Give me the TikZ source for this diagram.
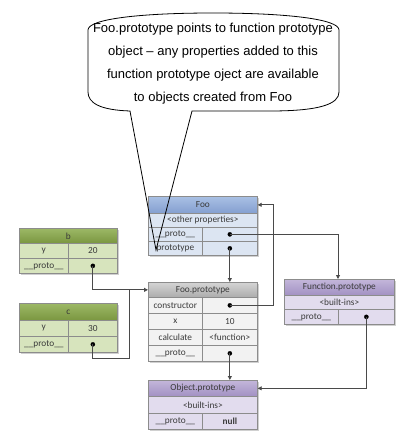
\documentclass[tikz,border=0pt]{standalone}
\usepackage{fontspec}
\newfontfamily\carlitofam{Carlito}
\newfontfamily\arialfam{Liberation Sans}
\usetikzlibrary{arrows.meta}
\definecolor{bordc}{HTML}{8C8C8C}
\definecolor{linec}{HTML}{4A4A4A}
\definecolor{txtc}{HTML}{3A3A3A}
\definecolor{shadc}{HTML}{D0D0D0}
\definecolor{rowgreen}{HTML}{D7E4BD}
\definecolor{greentop}{HTML}{9CB866}
\definecolor{greenbot}{HTML}{7A9640}
\definecolor{rowblue}{HTML}{DCE5F2}
\definecolor{bluetop}{HTML}{A9C0E4}
\definecolor{bluebot}{HTML}{849FD0}
\definecolor{rowgrey}{HTML}{F2F2F2}
\definecolor{greytop}{HTML}{D4D4D4}
\definecolor{greybot}{HTML}{ACACAC}
\definecolor{rowpurple}{HTML}{E2DCEE}
\definecolor{purptop}{HTML}{C3B6DA}
\definecolor{purpbot}{HTML}{A291C3}
\begin{document}
\begin{tikzpicture}[x=1pt,y=-1pt,
  cell/.style={draw=bordc, line width=0.7pt, inner sep=0pt, anchor=north west,
    font=\carlitofam\fontsize{9.3}{10}\selectfont, text=txtc},
  hgreen/.style={top color=greentop, bottom color=greenbot},
  hblue/.style={top color=bluetop, bottom color=bluebot},
  hgrey/.style={top color=greytop, bottom color=greybot},
  hpurple/.style={top color=purptop, bottom color=purpbot},
  conn/.style={draw=linec, line width=0.9pt},
  arr/.style={conn, -{Triangle[length=4pt,width=4pt]}},
  dot/.style={circle, fill=black, draw=black, line width=0.3pt, inner sep=0pt, minimum size=4.2pt},
  callout/.style={draw=black, line width=0.8pt},
]
\useasboundingbox (0,0) rectangle (401,434);
\fill[white] (0,0) rectangle (401,434);

% shadows
\fill[shadc] (20.5,229.5) rectangle (119,275);
\fill[shadc] (20.5,304.5) rectangle (119,354);
\fill[shadc] (149.5,197.5) rectangle (259,257);
\fill[shadc] (149.5,283.5) rectangle (259,363);
\fill[shadc] (285.5,280.5) rectangle (396,326);
\fill[shadc] (149.5,381.5) rectangle (259,431);

% b
\node[cell, hgreen, minimum width=98pt, minimum height=15pt] (bh) at (19,228) {b};
\node[cell, fill=rowgreen, minimum width=49pt, minimum height=15pt] (byk) at (19,243) {y};
\node[cell, fill=rowgreen, minimum width=49pt, minimum height=15pt] (byv) at (68,243) {20};
\node[cell, fill=rowgreen, minimum width=49pt, minimum height=15pt] (bpk) at (19,258) {\_\_proto\_\_};
\node[cell, fill=rowgreen, minimum width=49pt, minimum height=15pt] (bpv) at (68,258) {};

% c
\node[cell, hgreen, minimum width=98pt, minimum height=17pt] (ch) at (19,303) {c};
\node[cell, fill=rowgreen, minimum width=49pt, minimum height=16pt] (cyk) at (19,320) {y};
\node[cell, fill=rowgreen, minimum width=49pt, minimum height=16pt] (cyv) at (68,320) {30};
\node[cell, fill=rowgreen, minimum width=49pt, minimum height=16pt] (cpk) at (19,336) {\_\_proto\_\_};
\node[cell, fill=rowgreen, minimum width=49pt, minimum height=16pt] (cpv) at (68,336) {};

% Foo
\node[cell, hblue, minimum width=109pt, minimum height=17pt] (fooh) at (148,196) {Foo};
\node[cell, fill=rowblue, minimum width=109pt, minimum height=14pt] (fooo) at (148,213) {<other properties>};
\node[cell, fill=rowblue, minimum width=54pt, minimum height=14pt] (foopk) at (148,227) {\_\_proto\_\_};
\node[cell, fill=rowblue, minimum width=55pt, minimum height=14pt] (foopv) at (202,227) {};
\node[cell, fill=rowblue, minimum width=54pt, minimum height=14pt] (footk) at (148,241) {prototype};
\node[cell, fill=rowblue, minimum width=55pt, minimum height=14pt] (footv) at (202,241) {};

% Foo.prototype
\node[cell, hgrey, minimum width=109pt, minimum height=15pt] (fph) at (148,282) {Foo.prototype};
\node[cell, fill=rowgrey, minimum width=54pt, minimum height=16pt] (fpck) at (148,297) {constructor};
\node[cell, fill=rowgrey, minimum width=55pt, minimum height=16pt] (fpcv) at (202,297) {};
\node[cell, fill=rowgrey, minimum width=54pt, minimum height=16pt] (fpxk) at (148,313) {x};
\node[cell, fill=rowgrey, minimum width=55pt, minimum height=16pt] (fpxv) at (202,313) {10};
\node[cell, fill=rowgrey, minimum width=54pt, minimum height=16pt] (fpfk) at (148,329) {calculate};
\node[cell, fill=rowgrey, minimum width=55pt, minimum height=16pt] (fpfv) at (202,329) {<function>};
\node[cell, fill=rowgrey, minimum width=54pt, minimum height=16pt] (fppk) at (148,345) {\_\_proto\_\_};
\node[cell, fill=rowgrey, minimum width=55pt, minimum height=16pt] (fppv) at (202,345) {};

% Function.prototype
\node[cell, hpurple, minimum width=110pt, minimum height=16pt] (fnh) at (284,279) {Function.prototype};
\node[cell, fill=rowpurple, minimum width=110pt, minimum height=14pt] (fnb) at (284,295) {<built-ins>};
\node[cell, fill=rowpurple, minimum width=54pt, minimum height=15pt] (fnpk) at (284,309) {\_\_proto\_\_};
\node[cell, fill=rowpurple, minimum width=56pt, minimum height=15pt] (fnpv) at (338,309) {};

% Object.prototype
\node[cell, hpurple, minimum width=109pt, minimum height=16pt] (oh) at (148,380) {Object.prototype};
\node[cell, fill=rowpurple, minimum width=109pt, minimum height=17pt] (ob) at (148,396) {<built-ins>};
\node[cell, fill=rowpurple, minimum width=54pt, minimum height=16pt] (opk) at (148,413) {\_\_proto\_\_};
\node[cell, fill=rowpurple, minimum width=55pt, minimum height=16pt] (opv) at (202,413) {\textbf{null}};

% dots
\node[dot] (bd) at (bpv.center) {};
\node[dot] (cd) at (cpv.center) {};
\node[dot] (foopd) at (foopv.center) {};
\node[dot] (footd) at (footv.center) {};
\node[dot] (fpcd) at (fpcv.center) {};
\node[dot] (fppd) at (fppv.center) {};
\node[dot] (fnpd) at (fnpv.center) {};

% connectors
\coordinate (k1) at (273,0);
\coordinate (j1) at (129,358);
\coordinate (m1) at (338,0);
\draw[arr] (footd.center) -- (footd |- fph.north);
\draw[arr] (foopd.center) -- (foopd -| m1) -- (m1 |- fnh.north);
\draw[arr] (fpcd.center) -- (fpcd -| k1) |- (fooh.east);
\draw[arr] (bd.center) |- (fph.west);
\draw[conn] (cd.center) |- (j1) -- (j1 |- fph.west);
\draw[arr] (fppd.center) -- (fppd |- oh.north);
\draw[arr] (fnpd.center) |- (oh.east);

% callout
\draw[callout] (130,111) .. controls (100,110) and (88,103) .. (88,92)
  -- (88,30) .. controls (88,19) and (140,13) .. (213,13)
  .. controls (286,13) and (339,19) .. (339,30)
  -- (339,92) .. controls (339,104) and (320,111) .. (270,111)
  -- (192,111) -- (156,250) -- cycle;
\node[font=\arialfam\fontsize{13}{23}\selectfont, align=center, inner sep=0pt] (ctext) at (213,64)
  {Foo.prototype points to function prototype\\
   object \textendash{} any properties added to this\\
   function prototype oject are available\\
   to objects created from Foo};
\end{tikzpicture}
\end{document}
